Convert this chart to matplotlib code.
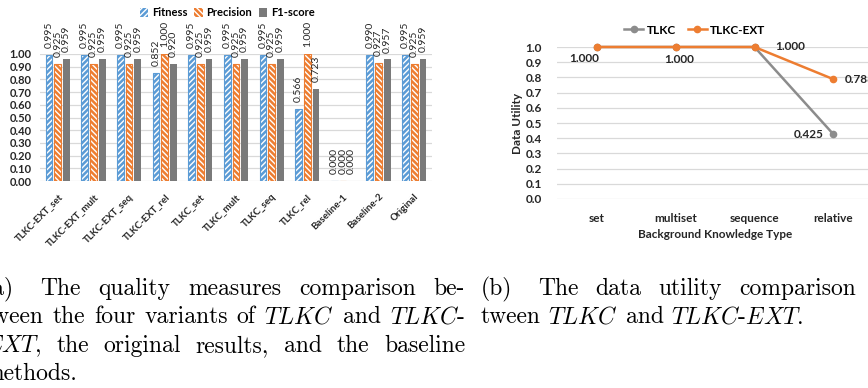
import matplotlib.pyplot as plt
import numpy as np

# --- data -------------------------------------------------------------
methods = ["TLKC-EXT_set", "TLKC-EXT_mult", "TLKC-EXT_seq", "TLKC-EXT_rel",
           "TLKC_set", "TLKC_mult", "TLKC_seq", "TLKC_rel",
           "Baseline-1", "Baseline-2", "Original"]
fitness = [0.995, 0.995, 0.995, 0.852, 0.995, 0.995, 0.995, 0.566, 0.000, 0.990, 0.995]
precision = [0.925, 0.925, 0.925, 1.000, 0.925, 0.925, 0.925, 1.000, 0.000, 0.927, 0.925]
f1_score = [0.959, 0.959, 0.959, 0.920, 0.959, 0.959, 0.959, 0.723, 0.000, 0.957, 0.959]

bk_types = ["set", "multiset", "sequence", "relative"]
tlkc_utility = [1.000, 1.000, 1.000, 0.425]
tlkc_ext_utility = [1.000, 1.000, 1.000, 0.788]

BLUE = "#5B9BD5"
ORANGE = "#ED7D31"
GRAY = "#7A7A7A"
GRID = "#D9D9D9"
TXT = "#262626"

W, H = 868, 388
plt.rcParams["font.family"] = "Lato"
plt.rcParams["mathtext.fontset"] = "cm"
plt.rcParams["hatch.linewidth"] = 1.0

fig = plt.figure(figsize=(W / 100, H / 100), dpi=100)


def px_axes(left, top, right, bottom):
    return fig.add_axes([left / W, 1 - bottom / H, (right - left) / W, (bottom - top) / H])


def clean(ax):
    for s in ax.spines.values():
        s.set_visible(False)
    ax.grid(axis="y", color=GRID, linewidth=0.9)
    ax.set_axisbelow(True)
    ax.tick_params(length=0, colors=TXT)


# --- (a) quality measures ---------------------------------------------
ax1 = px_axes(40, 54, 432, 181)
clean(ax1)
x = np.arange(len(methods))
bw, off = 0.19, 0.245
series = [(fitness, "Fitness", BLUE, "//////"),
          (precision, "Precision", ORANGE, "\\\\\\\\\\\\"),
          (f1_score, "F1-score", GRAY, None)]
for i, (vals, name, col, hatch) in enumerate(series):
    pos = x + (i - 1) * off
    if hatch:
        ax1.bar(pos, vals, bw, color=col, edgecolor="white", hatch=hatch,
                linewidth=0, label=name)
        ax1.bar(pos, vals, bw, fill=False, edgecolor=col, linewidth=0.8)
    else:
        ax1.bar(pos, vals, bw, color=col, label=name)
    for p, v in zip(pos, vals):
        ax1.annotate(f"{v:.3f}", (p, v), xytext=(0, 5), textcoords="offset points",
                     rotation=90, ha="center", va="bottom", fontsize=7.5, color=TXT)

ax1.set_xlim(-0.5, len(methods) - 0.5)
ax1.set_ylim(0, 1)
ax1.set_yticks(np.arange(0, 1.01, 0.1))
ax1.set_yticklabels([f"{t:.2f}" for t in np.arange(0, 1.01, 0.1)],
                    fontsize=8, fontweight="bold")
ax1.tick_params(axis="y", pad=6)
ax1.set_xticks(x)
ax1.set_xticklabels(methods, rotation=45, ha="right", va="top",
                    rotation_mode="anchor", fontsize=7, fontweight="bold")
ax1.tick_params(axis="x", pad=8)
ax1.legend(loc="center", bbox_to_anchor=(227 / W, 1 - 13 / H),
           bbox_transform=fig.transFigure, ncol=3, frameon=False,
           handlelength=0.8, handleheight=0.8, handletextpad=0.3,
           columnspacing=0.6, prop={"size": 8, "weight": "bold"})

# --- (b) data utility -------------------------------------------------
ax2 = px_axes(557, 47, 873, 199)
clean(ax2)
xb = np.arange(len(bk_types)) + 0.5
ax2.plot(xb, tlkc_utility, color="#8C8C8C", lw=1.8, marker="o", ms=4.5,
         label="TLKC", clip_on=False, zorder=3)
ax2.plot(xb, tlkc_ext_utility, color=ORANGE, lw=1.8, marker="o", ms=4.5,
         label="TLKC-EXT", clip_on=False, zorder=4)
ax2.set_xlim(0, len(bk_types))
ax2.set_ylim(0, 1)
ax2.set_yticks(np.arange(0, 1.01, 0.1))
ax2.set_yticklabels([f"{t:.1f}" for t in np.arange(0, 1.01, 0.1)],
                    fontsize=8.5, fontweight="bold")
ax2.tick_params(axis="y", pad=11)
ax2.set_xticks(xb)
ax2.set_xticklabels(bk_types, fontsize=8.5, fontweight="bold")
ax2.tick_params(axis="x", pad=10)
ax2.set_xlabel("Background Knowledge Type", fontsize=8.5, fontweight="bold",
               color=TXT, labelpad=4)
ax2.set_ylabel("Data Utility", fontsize=8.5, fontweight="bold", color=TXT, labelpad=2)

lab = dict(fontsize=8.5, fontweight="bold", color=TXT, textcoords="offset points")
ax2.annotate(f"{tlkc_ext_utility[0]:.3f}", (xb[0], tlkc_ext_utility[0]), xytext=(-9, -8),
             ha="center", va="center", **lab)
ax2.annotate(f"{tlkc_ext_utility[1]:.3f}", (xb[1], tlkc_ext_utility[1]), xytext=(3, -9),
             ha="center", va="center", **lab)
ax2.annotate(f"{tlkc_ext_utility[2]:.3f}", (xb[2], tlkc_ext_utility[2]), xytext=(15, 0),
             ha="left", va="center", **lab)
ax2.annotate(f"{tlkc_ext_utility[3]:.3f}", (xb[3], tlkc_ext_utility[3]), xytext=(8, 0),
             ha="left", va="center", **lab)
ax2.annotate(f"{tlkc_utility[3]:.3f}", (xb[3], tlkc_utility[3]), xytext=(-7, 0),
             ha="right", va="center", **lab)
ax2.legend(loc="center", bbox_to_anchor=(695 / W, 1 - 30 / H),
           bbox_transform=fig.transFigure, ncol=2, frameon=False, numpoints=1,
           handlelength=1.6, handletextpad=0.3, columnspacing=1.0,
           prop={"size": 8.5, "weight": "bold"})

# --- captions ---------------------------------------------------------
CAP = dict(fontsize=17, family="cmr10", va="baseline", color="black")
renderer = fig.canvas.get_renderer()


def caption_line(words, x0, y, x1=None, label_gap=0):
    items = [fig.text(0, 1 - y / H, w, **CAP) for w in words]
    widths = [t.get_window_extent(renderer).width for t in items]
    if x1 is None:
        space = 7.5
    else:
        space = (x1 - x0 - sum(widths) - label_gap) / (len(words) - 1)
    xx = x0
    for k, (t, w) in enumerate(zip(items, widths)):
        t.set_x(xx / W)
        xx += w + space + (label_gap if k == 0 and label_gap else 0)


caption_line(["(a)", "The", "quality", "measures", "comparison", "be-"],
             -16, 295, 465, label_gap=8)
caption_line(["tween", "the", "four", "variants", "of", "$TLKC$", "and", "$TLKC$-"],
             -16, 323, 465)
caption_line(["$EXT$,", "the", "original", "results,", "and", "the", "baseline"],
             -16, 352, 465)
caption_line(["methods."], -16, 380)
caption_line(["(b)", "The", "data", "utility", "comparison", "be-"],
             481, 295, 905, label_gap=8)
caption_line(["tween", "$TLKC$", "and", "$TLKC$-$EXT$."], 481, 323)

fig.savefig("out.png", dpi=100)
